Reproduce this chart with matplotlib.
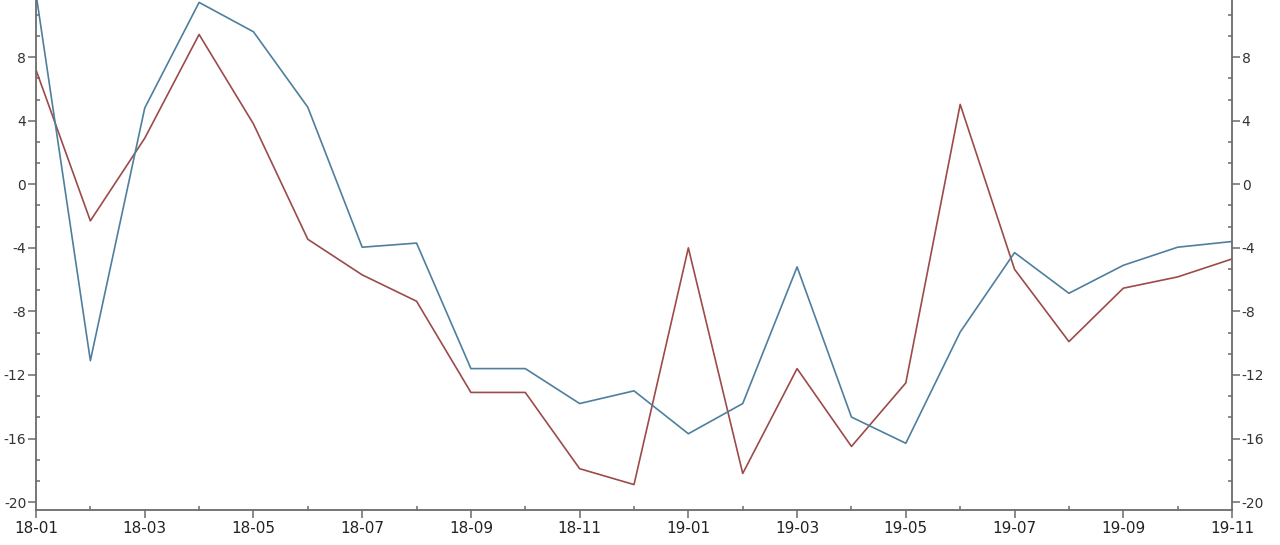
import matplotlib
matplotlib.use("Agg")
import matplotlib.pyplot as plt
from matplotlib.ticker import MultipleLocator, AutoMinorLocator

plt.rcParams["axes.unicode_minus"] = False

months = ["18-01", "18-02", "18-03", "18-04", "18-05", "18-06", "18-07", "18-08",
          "18-09", "18-10", "18-11", "18-12", "19-01", "19-02", "19-03", "19-04",
          "19-05", "19-06", "19-07", "19-08", "19-09", "19-10", "19-11"]

blue_vals = [12.0, -11.1, 4.8, 11.45, 9.6, 4.85, -3.96, -3.7, -11.6, -11.6, -13.8, -13.0,
             -15.7, -13.8, -5.2, -14.65, -16.3, -9.3, -4.3, -6.86, -5.1, -3.96, -3.6]
red_vals = [7.2, -2.3, 2.9, 9.43, 3.8, -3.46, -5.7, -7.36, -13.1, -13.1, -17.9, -18.9,
            -4.0, -18.2, -11.6, -16.5, -12.5, 5.03, -5.35, -9.9, -6.54, -5.83, -4.7]

BLUE = "#4e7f9e"
RED = "#9c4a4a"
AXIS = "#6b6b6b"

fig = plt.figure(figsize=(12.8, 5.45), dpi=100)
ax = fig.add_axes([36 / 1280, 35 / 545, (1232 - 36) / 1280, 510 / 545])

x = list(range(len(months)))
ax.plot(x, red_vals, color=RED, linewidth=1.2)
ax.plot(x, blue_vals, color=BLUE, linewidth=1.2)

ax.set_xlim(0, len(months) - 1)
ax.set_ylim(-20.5, 11.6)

ax.set_xticks(x[::2])
ax.set_xticklabels(months[::2])
ax.set_xticks(x[1::2], minor=True)
ax.yaxis.set_major_locator(MultipleLocator(4))
ax.yaxis.set_minor_locator(AutoMinorLocator(3))

ax.spines["top"].set_visible(False)
for s in ["left", "right", "bottom"]:
    ax.spines[s].set_color(AXIS)
    ax.spines[s].set_linewidth(1.3)

ax.tick_params(axis="both", which="major", direction="out", length=6, width=1.1,
               color=AXIS, pad=1)
ax.tick_params(axis="both", which="minor", direction="in", length=2.8, width=1.1,
               color=AXIS)
ax.tick_params(axis="y", which="both", left=True, right=True, labelleft=True,
               labelright=True, labelsize=10, labelcolor="#333333")
ax.tick_params(axis="x", which="major", labelsize=11, labelcolor="#222222", pad=2)

fig.savefig("out.png", dpi=100)
